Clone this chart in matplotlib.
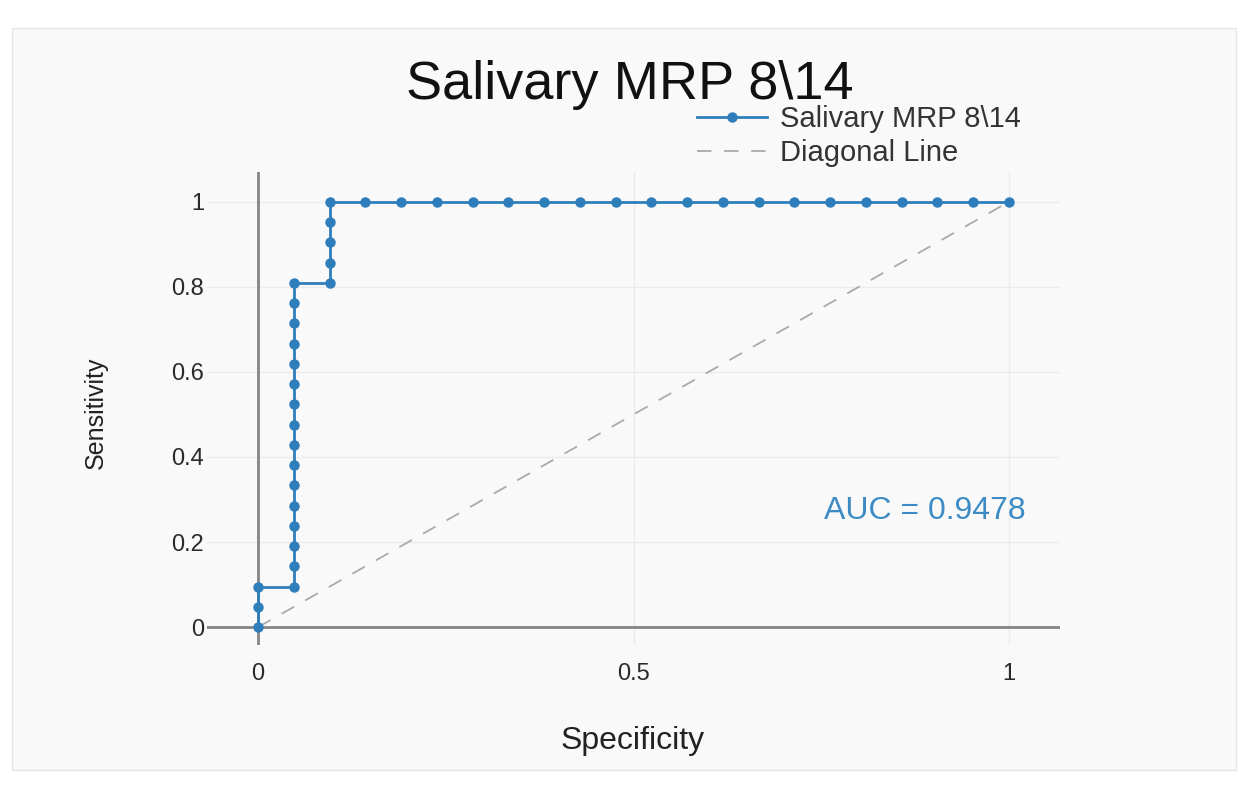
import matplotlib
matplotlib.use("Agg")
import matplotlib.pyplot as plt
from matplotlib.patches import Rectangle

# ROC data (Specificity axis as drawn, Sensitivity)
specificity = [0.0, 0.0, 0.0,
               0.0476, 0.0476, 0.0476, 0.0476, 0.0476, 0.0476, 0.0476, 0.0476,
               0.0476, 0.0476, 0.0476, 0.0476, 0.0476, 0.0476, 0.0476, 0.0476,
               0.0952, 0.0952, 0.0952, 0.0952, 0.0952,
               0.1429, 0.1905, 0.2381, 0.2857, 0.3333, 0.3810, 0.4286, 0.4762,
               0.5238, 0.5714, 0.6190, 0.6667, 0.7143, 0.7619, 0.8095, 0.8571,
               0.9048, 0.9524, 1.0]
sensitivity = [0.0, 0.0476, 0.0952,
               0.0952, 0.1429, 0.1905, 0.2381, 0.2857, 0.3333, 0.3810, 0.4286,
               0.4762, 0.5238, 0.5714, 0.6190, 0.6667, 0.7143, 0.7619, 0.8095,
               0.8095, 0.8571, 0.9048, 0.9524, 1.0,
               1.0, 1.0, 1.0, 1.0, 1.0, 1.0, 1.0, 1.0,
               1.0, 1.0, 1.0, 1.0, 1.0, 1.0, 1.0, 1.0,
               1.0, 1.0, 1.0]
diag_x = [0, 1]
diag_y = [0, 1]
x_ticks = [0, 0.5, 1]
x_ticklabels = ["0", "0.5", "1"]
y_ticks = [0, 0.2, 0.4, 0.6, 0.8, 1]
y_ticklabels = ["0", "0.2", "0.4", "0.6", "0.8", "1"]
series_name = "Salivary MRP 8\\14"
diag_name = "Diagonal Line"
title = "Salivary MRP 8\\14"
auc_text = "AUC = 0.9478"

plt.rcParams['font.family'] = ['Liberation Sans', 'DejaVu Sans']

W, H = 1242, 785
fig = plt.figure(figsize=(W / 100, H / 100), dpi=100, facecolor="white")

# light panel background
panel = Rectangle((12 / W, 1 - 770 / H), (1236 - 12) / W, (770 - 28) / H,
                  transform=fig.transFigure, facecolor="#f9f9f9",
                  edgecolor="#e6e6e6", linewidth=1.0, zorder=-10)
fig.patches.append(panel)

L, R, T, B = 207, 1060, 172, 645
ax = fig.add_axes([L / W, 1 - B / H, (R - L) / W, (B - T) / H])
ax.set_facecolor("none")
for s in ax.spines.values():
    s.set_visible(False)

blue = "#2f7ebc"
ax.set_xlim(-0.068, 1.068)
ax.set_ylim(-0.042, 1.07)

ax.set_xticks(x_ticks)
ax.set_xticklabels(x_ticklabels)
ax.set_yticks(y_ticks)
ax.set_yticklabels(y_ticklabels)
ax.tick_params(axis="both", length=0, labelsize=17, colors="#2a2a2a")
ax.tick_params(axis="x", pad=13)
ax.tick_params(axis="y", pad=2)
ax.grid(True, color="#ebebeb", linewidth=1.0, zorder=0)
ax.set_axisbelow(True)

ax.axhline(0, color="#858585", linewidth=2.0, zorder=1)
ax.axvline(0, color="#858585", linewidth=2.0, zorder=1)

ax.plot(specificity, sensitivity, color=blue, linewidth=2.0, marker="o",
        markersize=6.5, label=series_name, zorder=3, clip_on=False)
ax.plot(diag_x, diag_y, color="#aaaaaa", linewidth=1.3, linestyle=(0, (8, 7)),
        label=diag_name, zorder=2)

ax.text(0.888, 0.273, auc_text, color="#3d8bc4", fontsize=23,
        ha="center", va="center")

ax.set_xlabel("Specificity", fontsize=23, color="#222222")
ax.xaxis.set_label_coords((633 - L) / (R - L), (B - 726) / (B - T))
ax.set_ylabel("Sensitivity", fontsize=18, color="#222222")
ax.yaxis.set_label_coords((108 - L) / (R - L), (B - 413) / (B - T))

fig.text(630 / W, 1 - 85 / H, title, fontsize=39, color="#111111",
         ha="center", va="center")

leg = ax.legend(loc="upper left", bbox_to_anchor=(697 / W, 1 - 105 / H),
                bbox_transform=fig.transFigure, frameon=False, fontsize=21,
                handlelength=2.4, handletextpad=0.45, borderpad=0,
                borderaxespad=0, labelspacing=0.22)
for t in leg.get_texts():
    t.set_color("#333333")

fig.savefig("out.png", dpi=100, facecolor="white")
